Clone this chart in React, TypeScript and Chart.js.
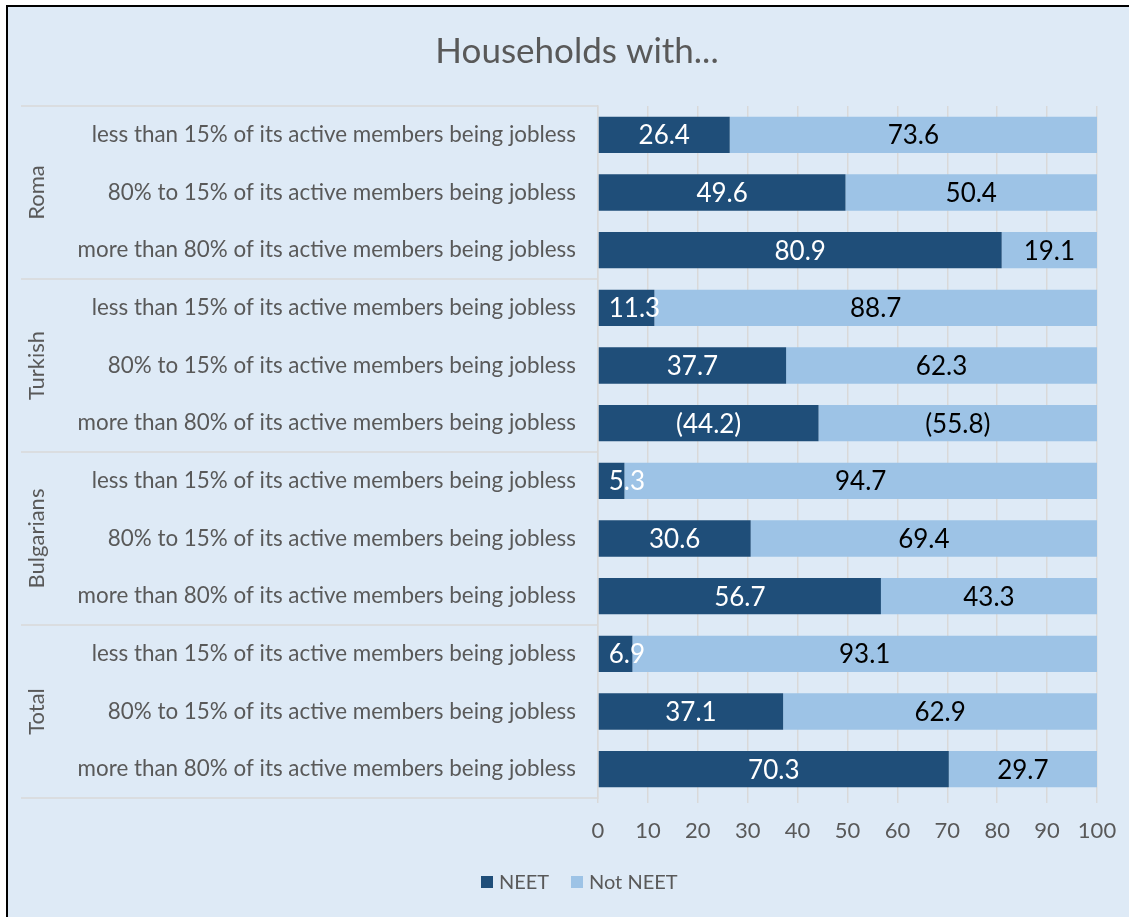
import React, { useEffect, useRef } from "react";
import { Chart, registerables } from "chart.js";

Chart.register(...registerables);

const title = "Households with...";
const groups = ["Roma", "Turkish", "Bulgarians", "Total"];
const subLabels = [
  "less than 15% of its active members being jobless",
  "80% to 15% of its active members being jobless",
  "more than 80% of its active members being jobless",
];
const seriesNames = ["NEET", "Not NEET"];
const neet = [26.4, 49.6, 80.9, 11.3, 37.7, 44.2, 5.3, 30.6, 56.7, 6.9, 37.1, 70.3];
const notNeet = [73.6, 50.4, 19.1, 88.7, 62.3, 55.8, 94.7, 69.4, 43.3, 93.1, 62.9, 29.7];
const neetText = ["26.4", "49.6", "80.9", "11.3", "37.7", "(44.2)", "5.3", "30.6", "56.7", "6.9", "37.1", "70.3"];
const notNeetText = ["73.6", "50.4", "19.1", "88.7", "62.3", "(55.8)", "94.7", "69.4", "43.3", "93.1", "62.9", "29.7"];
const xMin = 0;
const xMax = 100;
const xStep = 10;

const FONT = "Lato, 'Open Sans', sans-serif";
const TEXT = "#595959";
const GRID = "#d9d9d9";
const BG = "#DEEAF6";
const DARK = "#1F4E79";
const LIGHT = "#9DC3E6";

export default function App() {
  const ref = useRef<HTMLCanvasElement | null>(null);

  useEffect(() => {
    document.body.style.margin = "0";
    const canvas = ref.current;
    if (!canvas) return;

    const categories: string[] = [];
    groups.forEach(() => subLabels.forEach((s) => categories.push(s)));

    const deco = {
      id: "deco",
      beforeDraw(chart: any) {
        const ctx = chart.ctx;
        ctx.save();
        ctx.fillStyle = "#ffffff";
        ctx.fillRect(0, 0, chart.width, chart.height);
        ctx.fillStyle = BG;
        ctx.fillRect(7, 6, chart.width - 7, chart.height - 6);
        ctx.strokeStyle = "#000";
        ctx.lineWidth = 2;
        ctx.beginPath();
        ctx.moveTo(7, chart.height);
        ctx.lineTo(7, 6);
        ctx.lineTo(chart.width, 6);
        ctx.stroke();
        ctx.fillStyle = TEXT;
        ctx.font = `35px ${FONT}`;
        ctx.textAlign = "center";
        ctx.textBaseline = "middle";
        ctx.fillText(title, 577, 52);
        ctx.restore();
      },
      afterDraw(chart: any) {
        const ctx = chart.ctx;
        const y = chart.scales.y;
        const area = chart.chartArea;
        ctx.save();
        ctx.strokeStyle = GRID;
        ctx.lineWidth = 1.5;
        const bounds: number[] = [];
        for (let g = 0; g <= groups.length; g++) {
          let yy;
          if (g === 0) yy = area.top;
          else if (g === groups.length) yy = area.bottom;
          else yy = (y.getPixelForValue(g * 3 - 1) + y.getPixelForValue(g * 3)) / 2;
          bounds.push(yy);
          ctx.beginPath();
          ctx.moveTo(21, yy);
          ctx.lineTo(area.left, yy);
          ctx.stroke();
        }
        ctx.fillStyle = TEXT;
        ctx.font = `22px ${FONT}`;
        ctx.textAlign = "center";
        ctx.textBaseline = "middle";
        groups.forEach((g, i) => {
          const cy = (bounds[i] + bounds[i + 1]) / 2;
          ctx.save();
          ctx.translate(37, cy);
          ctx.rotate(-Math.PI / 2);
          ctx.fillText(g, 0, 0);
          ctx.restore();
        });
        ctx.font = `20px ${FONT}`;
        ctx.textAlign = "left";
        ctx.fillStyle = DARK;
        ctx.fillRect(481, 876, 12, 12);
        ctx.fillStyle = TEXT;
        ctx.fillText(seriesNames[0], 499, 883);
        ctx.fillStyle = LIGHT;
        ctx.fillRect(571, 876, 12, 12);
        ctx.fillStyle = TEXT;
        ctx.fillText(seriesNames[1], 589, 883);
        ctx.restore();
      },
      afterDatasetsDraw(chart: any) {
        const ctx = chart.ctx;
        ctx.save();
        ctx.font = `26px ${FONT}`;
        ctx.textBaseline = "middle";
        const texts = [neetText, notNeetText];
        const colors = ["#ffffff", "#000000"];
        const pad = 10;
        chart.data.datasets.forEach((ds: any, di: number) => {
          const meta = chart.getDatasetMeta(di);
          meta.data.forEach((el: any, i: number) => {
            const t = texts[di][i];
            const w = ctx.measureText(t).width;
            const left = Math.min(el.x, el.base);
            const bw = Math.abs(el.x - el.base);
            ctx.fillStyle = colors[di];
            if (w + 2 * pad > bw) {
              ctx.textAlign = "left";
              ctx.fillText(t, left + pad, el.y + 1);
            } else {
              ctx.textAlign = "center";
              ctx.fillText(t, left + bw / 2, el.y + 1);
            }
          });
        });
        ctx.restore();
      },
    };

    const chart = new Chart(canvas, {
      type: "bar",
      data: {
        labels: categories,
        datasets: [
          { label: seriesNames[0], data: neet, backgroundColor: DARK, categoryPercentage: 1, barPercentage: 0.63 },
          { label: seriesNames[1], data: notNeet, backgroundColor: LIGHT, categoryPercentage: 1, barPercentage: 0.63 },
        ],
      },
      options: {
        indexAxis: "y",
        animation: false,
        responsive: false,
        maintainAspectRatio: false,
        layout: { padding: { top: 106, right: 32, bottom: 0, left: 0 } },
        plugins: { legend: { display: false }, title: { display: false }, tooltip: { enabled: false } },
        scales: {
          x: {
            stacked: true,
            min: xMin,
            max: xMax,
            ticks: { stepSize: xStep, color: TEXT, font: { family: FONT, size: 22 }, padding: 15, maxRotation: 0 },
            grid: { color: GRID, lineWidth: 1.5, tickLength: 5, drawTicks: true },
            border: { display: false },
            afterFit: (s: any) => { s.height = 119; s.paddingLeft = 0; s.paddingRight = 0; },
          },
          y: {
            stacked: true,
            ticks: { color: TEXT, font: { family: FONT, size: 22.4 }, padding: 22, autoSkip: false },
            grid: { display: false, drawTicks: false },
            border: { display: true, color: GRID, width: 1.5 },
            afterFit: (s: any) => { s.width = 598; s.paddingTop = 0; s.paddingBottom = 0; },
          },
        },
      },
      plugins: [deco],
    });
    return () => chart.destroy();
  }, []);

  return (
    <div style={{ width: 1129, height: 917, position: "relative" }}>
      <canvas ref={ref} width={1129} height={917} style={{ display: "block", width: 1129, height: 917 }} />
    </div>
  );
}
